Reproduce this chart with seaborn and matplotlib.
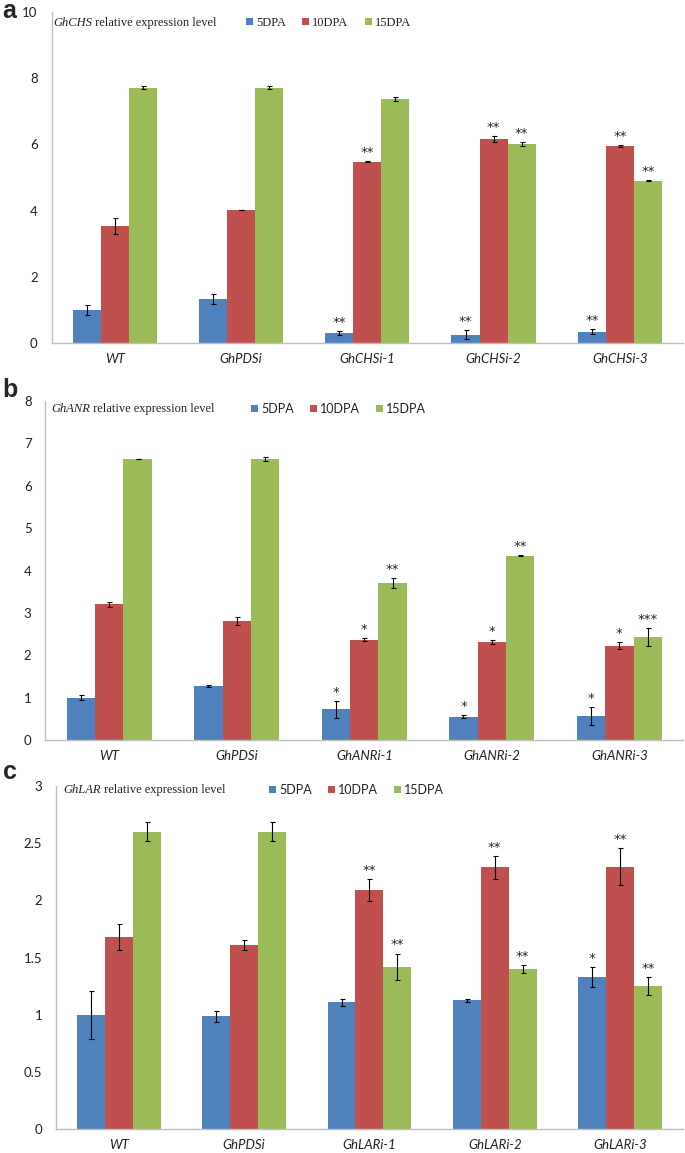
import numpy as np
import pandas as pd
import matplotlib
matplotlib.use('Agg')
from matplotlib import pyplot as plt
import seaborn as sns

sns.set_style('white')
plt.rcParams['font.family'] = ['Lato', 'DejaVu Sans']

stages = ['5DPA', '10DPA', '15DPA']
colors = ['#4F81BD', '#C0504D', '#9BBB59']

# a - GhCHS
chs_lines = ['WT', 'GhPDSi', 'GhCHSi-1', 'GhCHSi-2', 'GhCHSi-3']
chs_5 = [1.0, 1.33, 0.30, 0.25, 0.34]
chs_10 = [3.54, 4.02, 5.48, 6.17, 5.94]
chs_15 = [7.71, 7.71, 7.37, 6.00, 4.90]
chs_5_err = [0.15, 0.15, 0.05, 0.13, 0.07]
chs_10_err = [0.25, 0.01, 0.02, 0.09, 0.03]
chs_15_err = [0.05, 0.05, 0.05, 0.06, 0.02]
chs_5_sig = ['', '', '**', '**', '**']
chs_10_sig = ['', '', '**', '**', '**']
chs_15_sig = ['', '', '', '**', '**']

# b - GhANR
anr_lines = ['WT', 'GhPDSi', 'GhANRi-1', 'GhANRi-2', 'GhANRi-3']
anr_5 = [1.0, 1.27, 0.72, 0.55, 0.56]
anr_10 = [3.2, 2.81, 2.37, 2.31, 2.23]
anr_15 = [6.63, 6.63, 3.71, 4.35, 2.43]
anr_5_err = [0.06, 0.03, 0.2, 0.04, 0.21]
anr_10_err = [0.05, 0.09, 0.03, 0.05, 0.09]
anr_15_err = [0.01, 0.05, 0.12, 0.01, 0.22]
anr_5_sig = ['', '', '*', '*', '*']
anr_10_sig = ['', '', '*', '*', '*']
anr_15_sig = ['', '', '**', '**', '***']

# c - GhLAR
lar_lines = ['WT', 'GhPDSi', 'GhLARi-1', 'GhLARi-2', 'GhLARi-3']
lar_5 = [1.0, 0.985, 1.11, 1.125, 1.33]
lar_10 = [1.68, 1.61, 2.09, 2.29, 2.295]
lar_15 = [2.6, 2.6, 1.42, 1.40, 1.25]
lar_5_err = [0.21, 0.045, 0.03, 0.015, 0.09]
lar_10_err = [0.11, 0.04, 0.1, 0.1, 0.16]
lar_15_err = [0.085, 0.085, 0.115, 0.035, 0.08]
lar_5_sig = ['', '', '', '', '*']
lar_10_sig = ['', '', '**', '**', '**']
lar_15_sig = ['', '', '**', '**', '**']


def panel(ax, lines, vals, errs, sigs, gene, ymax, ystep, letter, letter_y,
          leg_serif, title_x, leg_x, head_y):
    df = pd.DataFrame({
        'line': lines * 3,
        'stage': [s for s in stages for _ in lines],
        'value': vals[0] + vals[1] + vals[2],
    })
    sns.barplot(data=df, x='line', y='value', hue='stage', order=lines,
                hue_order=stages, palette=colors, saturation=1, width=0.667,
                gap=0, errorbar=None, linewidth=0, ax=ax)
    bars = list(ax.containers[:3])
    for cont, e, sg in zip(bars, errs, sigs):
        for b, err, s in zip(cont, e, sg):
            x = b.get_x() + b.get_width() / 2
            h = b.get_height()
            ax.errorbar(x, h, yerr=err, color='black', capsize=1.8,
                        elinewidth=0.8, capthick=0.8)
            if s:
                ax.annotate(s, (x, h + err), xytext=(0, 1.5),
                            textcoords='offset points', ha='center',
                            va='bottom', fontsize=9.5, color='#222222',
                            family='DejaVu Sans')
    ticks = np.arange(0, ymax + ystep / 2, ystep)
    ax.set_xlim(-0.5, 4.5)
    ax.set_ylim(0, ymax)
    ax.set_yticks(ticks)
    ax.set_yticklabels(['{:g}'.format(v) for v in ticks])
    ax.set_xticks(np.arange(-0.5, 5, 1), minor=True)
    ax.tick_params(axis='x', which='major', length=0, pad=7,
                   labelsize=9.5, labelcolor='#222222')
    ax.tick_params(axis='x', which='minor', length=5, color='#BFBFBF',
                   direction='out', width=0.8)
    ax.tick_params(axis='y', length=4, color='#BFBFBF', direction='out',
                   width=0.8, labelsize=9.5, labelcolor='#222222', pad=6)
    for t in ax.get_xticklabels():
        t.set_style('italic')
    ax.set_xlabel('')
    ax.set_ylabel('')
    sns.despine(ax=ax)
    for sp in ['left', 'bottom']:
        ax.spines[sp].set_color('#BFBFBF')
        ax.spines[sp].set_linewidth(1.0)

    t1 = ax.text(title_x, head_y, gene, transform=ax.transAxes,
                 family='Liberation Serif', style='italic', fontsize=9,
                 va='center', ha='left', color='#222222')
    ax.annotate(' relative expression level', xy=(1, 0), xycoords=t1,
                family='Liberation Serif', fontsize=9, va='bottom',
                ha='left', color='#222222')

    handles, labels = ax.get_legend_handles_labels()
    prop = {'family': 'Liberation Serif' if leg_serif else 'Lato', 'size': 9}
    ax.legend(handles, labels, ncol=3, loc='center left',
              bbox_to_anchor=(leg_x, head_y), frameon=False,
              handlelength=0.55, handleheight=0.55, handletextpad=0.25,
              columnspacing=1.3, borderpad=0, borderaxespad=0, prop=prop,
              labelcolor='#222222')
    fig.text(0.004, letter_y, letter, fontsize=18, fontweight='bold',
             family='Liberation Sans', va='center', ha='left')


fig = plt.figure(figsize=(6.85, 11.53), dpi=100)
ax_a = fig.add_axes([0.0752, 0.7025, 0.922, 0.2871])
ax_b = fig.add_axes([0.0663, 0.3582, 0.931, 0.2940])
ax_c = fig.add_axes([0.0818, 0.0208, 0.915, 0.2975])

panel(ax_a, chs_lines, [chs_5, chs_10, chs_15],
      [chs_5_err, chs_10_err, chs_15_err], [chs_5_sig, chs_10_sig, chs_15_sig],
      'GhCHS', 10, 2, 'a', 1 - 11 / 1153, True, 0.003, 0.308, 0.967)
panel(ax_b, anr_lines, [anr_5, anr_10, anr_15],
      [anr_5_err, anr_10_err, anr_15_err], [anr_5_sig, anr_10_sig, anr_15_sig],
      'GhANR', 8, 1, 'b', 1 - 390 / 1153, False, 0.0096, 0.3225, 0.976)
panel(ax_c, lar_lines, [lar_5, lar_10, lar_15],
      [lar_5_err, lar_10_err, lar_15_err], [lar_5_sig, lar_10_sig, lar_15_sig],
      'GhLAR', 3, 0.5, 'c', 1 - 772 / 1153, False, 0.0117, 0.340, 0.988)

fig.savefig('out.png', dpi=100)
